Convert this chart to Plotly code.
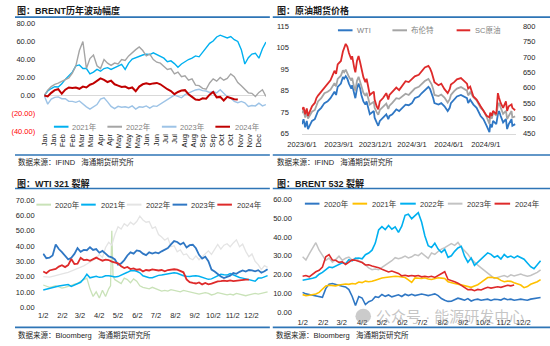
import plotly.graph_objects as go

W, H = 550, 346


def fx(x):
    """pixel column -> paper fraction"""
    return x / W


def fy(y):
    """pixel row (from top) -> paper fraction"""
    return 1 - y / H


# ---------------- BRENT 历年波动幅度 (%) ----------------
brent_days = list(range(0, 253, 4))  # trading-day index within the year
month_labels = ["Jan", "Jan", "Feb", "Feb", "Mar", "Mar", "Apr", "Apr", "May", "May", "May", "Jun",
                "Jun", "Jul", "Jul", "Aug", "Aug", "Sep", "Sep", "Oct", "Oct", "Nov", "Nov", "Dec"]
month_ticks = [round(10.6 * k, 1) for k in range(len(month_labels))]

brent_2021 = [0, 5, 7.8, 9.8, 9.5, 13, 18, 22, 26, 33,
              34, 30, 30, 24, 26, 29, 27, 30, 31, 29,
              31, 33, 34.5, 29, 36, 40.5, 42, 44, 45, 46,
              45.5, 47.5, 45.5, 44, 41.5, 37.5, 38.5, 35.5, 31.5, 35,
              37.5, 40, 41.5, 44, 43, 48, 53, 58, 60.5, 65,
              67, 65.5, 64, 65.5, 62, 60, 51, 35, 42, 46,
              47, 41.5, 52, 59.5]
brent_2022 = [0, 6, 10, 12.5, 13.8, 15.5, 17.5, 19.5, 25, 33,
              50, 60, 30, 41, 45, 33, 30, 40, 36, 33.5,
              36, 35, 40, 39, 44, 48, 51, 54, 50, 44,
              46, 40, 37, 36, 32, 29, 30, 24, 26, 21,
              22, 17, 18.5, 11.5, 11, 8, 7, 14, 18.5, 16,
              20, 17, 19, 24, 21, 14.5, 11, 7, 3, 2.5,
              -1, 3.5, 6.5, -1]
brent_2023 = [0, -9.5, -4, -2, -1.5, -3.5, -3.5, -6.5, -6.5, -7.5,
              -6, -9.5, -12.5, -15, -12.5, -10, -4, -2.5, -7, -12,
              -14.5, -12, -13, -12.5, -13.5, -11.5, -15, -12.5, -13, -11.5,
              -14, -11.5, -12, -9.5, -7, -4, -1.5, 0.5, -1, -2.5,
              1, 3, 4.8, 6.2, 7, 5.5, 5, 3.5, 4.5, 3,
              6.5, 3, -1.2, -3, -6.5, -8, -6.5, -8, -12, -11,
              -11.5, -8.5, -11.5, -10]
brent_2024 = [0, -1, 3, 6, 7, 2, 6.5, 9, 8.5, 9,
              7.5, 10, 9, 12, 13.5, 16, 19, 17.5, 15, 16.5,
              12.5, 11, 9.5, 10, 8, 9, 4.8, 10, 12.5, 13.5,
              12.5, 13.5, 14, 12.5, 9.5, 7, 5, 1.5, 4, 5.5,
              6, 1.5, -1.5, -4.5, -5, -3, -3.5, 1, 4, -2,
              -1.5, -5.5, -1.5, -3, -4, -4.5]

# ---------------- 原油期货价格 ----------------
price_dates = [
    "2023-06-01", "2023-06-05", "2023-06-09", "2023-06-13", "2023-06-16", "2023-06-26", "2023-07-03",
    "2023-07-07", "2023-07-11", "2023-07-19", "2023-07-27", "2023-08-04", "2023-08-11", "2023-08-21",
    "2023-08-25", "2023-08-29", "2023-09-06", "2023-09-11", "2023-09-14", "2023-09-18", "2023-09-22",
    "2023-09-26", "2023-10-02", "2023-10-04", "2023-10-09", "2023-10-12", "2023-10-16", "2023-10-20",
    "2023-10-24", "2023-10-27", "2023-11-01", "2023-11-06", "2023-11-09", "2023-11-13", "2023-11-17",
    "2023-11-27", "2023-11-29", "2023-12-04", "2023-12-08", "2023-12-12", "2023-12-20", "2023-12-28",
    "2024-01-02", "2024-01-05", "2024-01-12", "2024-01-22", "2024-01-29", "2024-02-06", "2024-02-14",
    "2024-02-22", "2024-03-01", "2024-03-08", "2024-03-18", "2024-03-25", "2024-04-02", "2024-04-11",
    "2024-04-15", "2024-04-19", "2024-04-23", "2024-04-26", "2024-05-06", "2024-05-13", "2024-05-21",
    "2024-05-29", "2024-06-03", "2024-06-06", "2024-06-14", "2024-06-21", "2024-07-01", "2024-07-08",
    "2024-07-16", "2024-07-19", "2024-07-24", "2024-08-01", "2024-08-09", "2024-08-19", "2024-08-26",
    "2024-09-03", "2024-09-10", "2024-09-12", "2024-09-16", "2024-09-19", "2024-09-27", "2024-10-01",
    "2024-10-04", "2024-10-08", "2024-10-14", "2024-10-21", "2024-10-24", "2024-10-28", "2024-11-04",
    "2024-11-06", "2024-11-13"]
wti_price = [69.4, 71.7, 67.9, 70.9, 67.1, 70.9, 71.7, 74.0, 75.5, 77.0,
             79.2, 80.0, 81.5, 84.5, 83.0, 86.8, 88.3, 91.4, 90.6, 91.8,
             90.6, 88.3, 86.0, 87.6, 83.0, 81.5, 86.0, 88.3, 86.0, 83.0,
             80.0, 78.5, 80.0, 77.0, 74.0, 75.5, 72.4, 70.2, 68.6, 70.9,
             72.4, 74.0, 71.7, 73.2, 74.0, 76.3, 75.5, 77.0, 78.5, 78.2,
             79.2, 81.5, 82.3, 83.8, 85.3, 86.8, 85.8, 83.8, 81.5, 79.2,
             78.5, 79.2, 77.7, 75.5, 77.0, 79.2, 80.8, 82.3, 83.0, 82.3,
             81.5, 79.2, 80.8, 78.5, 77.0, 73.2, 71.7, 68.6, 65.6, 69.4,
             67.9, 70.9, 69.4, 74.0, 75.5, 73.2, 70.2, 71.7, 67.1, 69.4,
             71.7, 68.6, 69.4]
brent_price = [74.5, 76.0, 72.5, 75.0, 72.0, 75.2, 76.0, 78.5, 80.0, 81.5,
               83.8, 84.5, 85.5, 88.5, 87.0, 90.5, 92.0, 94.5, 93.6, 94.8,
               93.0, 91.5, 89.8, 91.0, 86.5, 85.0, 89.6, 91.5, 89.0, 86.7,
               84.0, 82.6, 84.0, 81.5, 78.5, 79.8, 77.0, 75.0, 73.8, 76.0,
               77.5, 79.0, 76.5, 78.0, 79.3, 81.5, 81.2, 82.5, 83.6, 83.0,
               84.5, 86.0, 86.8, 88.3, 89.5, 90.5, 89.5, 88.0, 85.7, 83.0,
               82.5, 83.2, 81.8, 79.5, 81.0, 83.0, 84.8, 86.0, 86.7, 85.9,
               85.0, 82.8, 84.3, 82.0, 80.5, 77.0, 75.7, 72.8, 69.5, 73.3,
               72.0, 74.8, 73.4, 78.0, 79.3, 77.1, 74.2, 75.6, 71.8, 73.2,
               75.5, 72.5, 73.0]
sc_price = [529, 536, 513, 532, 508, 539, 550, 566, 574, 587,
            597, 613, 624, 655, 645, 676, 687, 718, 729, 743,
            734, 713, 692, 703, 666, 650, 687, 703, 682, 661,
            634, 618, 629, 603, 576, 587, 561, 539, 529, 555,
            566, 582, 561, 576, 587, 600, 592, 608, 621, 618,
            629, 637, 642, 655, 666, 671, 663, 650, 634, 618,
            608, 613, 595, 582, 595, 610, 618, 627, 631, 624,
            613, 597, 603, 571, 561, 539, 524, 508, 503, 518,
            508, 524, 513, 582, 566, 550, 534, 555, 524, 539,
            545, 534, 526]
price_ticks = ["2023-06-01", "2023-09-01", "2023-12-01", "2024-03-01", "2024-06-01", "2024-09-01"]
price_ticktext = ["2023/6/1", "2023/9/1", "2023/12/1", "2024/3/1", "2024/6/1", "2024/9/1"]

# ---------------- 裂解价差 (day of year) ----------------
crack_days = list(range(1, 362, 5))
crack_ticks = [1, 32, 60, 91, 121, 152, 182, 213, 244, 274, 305, 335]
crack_ticktext = ["1/2", "2/2", "3/2", "4/2", "5/2", "6/2", "7/2", "8/2", "9/2", "10/2", "11/2", "12/2"]

wti321_2020_days = [1, 6, 11, 16, 21, 26, 31, 36, 41, 46, 51, 56, 61, 66, 71, 76, 81, 86, 91, 96,
                    101, 106, 109, 111, 113, 116, 121, 126, 131, 136, 141, 146, 151, 156, 161, 166,
                    171, 176, 181, 186, 191, 196, 201, 206, 211, 216, 221, 226, 231, 236, 241, 246,
                    251, 256, 261, 266, 271, 276, 281, 286, 291, 296, 301, 306, 311, 316, 321, 326,
                    331, 336, 341, 346, 351, 356, 361]
wti321_2020 = [14.5, 13.8, 13, 13.5, 14, 13.2, 12.5, 13, 13.5, 14.2,
               15, 15.5, 17, 18, 19, 12, 7, 10, 6, 11,
               7, 12, 14, 50, 20,
               18, 17, 15.5, 19, 18, 16, 18.5, 17, 14, 13,
               12.5, 12, 13, 12, 11, 10.5, 11, 10.5, 11.5, 11,
               10.5, 10, 11, 10.5, 10, 9.5, 9, 8.5, 9, 9.5,
               9, 8, 8.5, 9.5, 9, 8.5, 8, 8.5, 8, 9,
               8.5, 8, 7.5, 8, 8.5, 9, 8.5, 9, 10, 10]
wti321_2021 = [11.2, 11.8, 12.3, 12.8, 13.2, 13.8, 14.2, 14.5, 14.8, 13.6,
               14.5, 15.5, 16.3, 18.5, 21.5, 19.2, 19.8, 20.2, 19.5, 19.7,
               20.5, 20.6, 20.2, 19.8, 20, 20.8, 22, 22.8, 23.8, 24,
               23.5, 22.5, 20.5, 19.8, 19.2, 19.3, 20.3, 20.8, 21, 21.3,
               22, 22.3, 22.5, 22.2, 21.3, 20.6, 20.2, 20, 20.4, 20.6,
               20.2, 19.7, 19, 18.2, 18.5, 19.6, 20.6, 21.5, 21.2, 21,
               22, 21, 20, 19.4, 19, 18.5, 18, 17.5, 17, 19,
               19, 19.8, 20.6]
wti321_2022 = [20, 19.8, 19.7, 20.2, 20.6, 21.2, 21.8, 22.2, 22.7, 23.5,
               24.2, 25, 26, 27, 28.2, 29.5, 30.5, 32, 34.5, 32.5,
               39, 42.4, 40.5, 47.5, 52.5, 51, 54.5, 53, 55.5, 54,
               56, 59.5, 57, 55.5, 56, 51.5, 52.5, 47.5, 45.8, 43.8,
               45.2, 39.5, 40.2, 36.2, 37.5, 34.2, 34.8, 32, 31, 33.5,
               31, 32.8, 34.5, 36.8, 34.5, 38, 41, 38, 40.5, 41.5,
               39.5, 42, 44, 39.5, 41.2, 36.5, 33, 34.8, 30, 27.8,
               24.5, 27.2, 26]
wti321_2023 = [35, 32, 32.3, 33.8, 41, 38, 36, 33.3, 31.2, 32.3,
               34.8, 38.6, 36.2, 37.4, 37.2, 39.2, 37.4, 38, 35.6, 36.8,
               35, 33.2, 32.6, 31.2, 27.8, 28.6, 30.8, 33.8, 35.8, 35,
               37.1, 36.7, 35, 34, 35.8, 35, 35.8, 35.2, 36.5, 37.4,
               38.6, 41, 43.2, 42.6, 41, 42.2, 39, 40.5, 40.8, 38.5,
               34.2, 31.8, 33, 30, 24.6, 23.3, 21.4, 20.1, 19, 19.7,
               20.6, 22.3, 21.8, 23.1, 24, 23.3, 24.3, 24, 23.4, 24.2,
               22.5, 23.5, 24.8]
wti321_2024 = [23.3, 22.2, 24, 24.4, 25, 26.5, 27.4, 26.2, 27.5, 31.5,
               28.2, 28.5, 32.2, 30.8, 31, 30.3, 31.6, 32.4, 31.3, 30.4,
               31.1, 30.8, 29.8, 29, 28.7, 26.8, 25.6, 26.3, 24.9, 25.4,
               24.5, 24.8, 23.4, 24.3, 24, 24.7, 24.5, 24, 24.3, 23.5,
               24.3, 24.7, 24.8, 24.5, 23.4, 22.8, 18.2, 16.4, 15.9, 15.5,
               16.2, 14.9, 15.8, 14.9, 15.4, 16.2, 16.9, 17, 17.3, 17,
               17.5, 17.1, 17.3, 17.9, 17.7, 18, 18]

brent532_2020 = [10.5, 9.7, 9.4, 9.1, 8.8, 8.6, 7.9, 12.5, 14.9, 15.2,
                 14.6, 14.4, 13.8, 13.4, 12, 8.3, 3.5, 8.3, 7.5, 4,
                 5.5, 6.2, 8.2, 7.8, 9.4, 8.4, 9.1, 8.1, 8.6, 9.2,
                 8.3, 9.5, 8.8, 9.5, 8.8, 9.2, 9.6, 9.2, 8.8, 9.2,
                 9.7, 8.8, 7.2, 6.3, 5.7, 5.8, 6.8, 7.4, 6.9, 6.3,
                 7.2, 5.9, 6.6, 6.9, 6.3, 6.6, 6.9, 6.2, 6.8, 6.7,
                 6.4, 7.3, 6.6, 6.9, 6.3, 6.6, 6.9, 6.6, 6.3, 6.9,
                 7.3, 7.5, 7.8]
brent532_2021 = [9.3, 8.8, 9, 9.3, 9.6, 10.5, 12, 13.9, 14.3, 14,
                 14, 14.4, 14.9, 15, 14.8, 15.2, 15, 16, 15.7, 16.5,
                 16.2, 16.4, 17, 17.7, 18.2, 18.4, 18.7, 18.8, 19.1, 19,
                 18.9, 18.4, 17.2, 15.8, 18.2, 18.1, 17.9, 18.3, 17.6, 17.4,
                 17.9, 18.3, 18.1, 17.9, 16.2, 15.6, 15.2, 14.9, 14.4, 14.1,
                 13.6, 13.2, 13.9, 14.6, 15.8, 17.2, 18.4, 18.6, 18.5, 18,
                 16.9, 16.2, 16.5, 16.4, 15.6, 15, 14.4, 13, 13.6, 14.8,
                 15.3, 16.2, 17.3]
brent532_2022 = [17, 17.3, 17.6, 18, 18.6, 20.2, 21.2, 22.6, 24, 23.7,
                 24.6, 25.4, 26.3, 25.8, 27.9, 27.3, 28.7, 28.8, 28.4, 30.6,
                 31.5, 33, 36.8, 43.8, 45.6, 44, 46.2, 44.2, 45.4, 42.5,
                 45.8, 51.6, 52.2, 49.8, 51.4, 53, 48, 40.6, 35.4, 34.4,
                 36.7, 33.6, 31.8, 33.4, 29.2, 30, 32.4, 34.2, 35.1, 29.8,
                 26.6, 28.8, 24.9, 26.5, 28.2, 30, 31.6, 30.8, 29.2, 30,
                 28.3, 30.7, 29.2, 29.9, 28.9, 29.9, 29.1, 28.2, 26.2, 24.2,
                 23.1, 25.2, 27.4]
brent532_2023 = [29.5, 27.8, 31, 33.8, 37, 33, 30, 27.6, 28.8, 26.6,
                 28, 29.8, 27.6, 28.7, 29.3, 27.8, 28.8, 27.4, 26.6, 24.9,
                 23.6, 22.6, 23, 22.6, 23.8, 24.9, 26.5, 27.4, 29, 28.4,
                 29, 29.9, 28.9, 29.5, 30.7, 30.1, 31.5, 30.1, 28.6, 31.5,
                 30.8, 32.3, 33.6, 34.4, 35.6, 36.5, 35.6, 37.2, 34.6, 32.8,
                 30.8, 28.4, 26.4, 25, 23.6, 22.1, 20.6, 19.2, 18, 18.5,
                 19, 19.5, 18.8, 19.9, 19.3, 19.8, 20.3, 19.6, 19.1, 19.5,
                 20.3, 21.2, 22.5]
brent532_2024 = [19.1, 19.5, 18.8, 20.4, 21.5, 22.3, 24, 29.5, 30.6, 27.8,
                 27.6, 26.5, 26.8, 25.4, 26.4, 27.8, 27.6, 27.2, 26.4, 25.1,
                 25.2, 24.6, 24.2, 23.7, 22.8, 22.2, 21.4, 21.9, 21.3, 20.6,
                 19.3, 19.6, 19.2, 19.5, 19.2, 19.5, 18.8, 19.1, 18.7, 19.1,
                 18.5, 19.4, 20.6, 21.5, 17.4, 17, 16.2, 15.4, 14.3, 12.8,
                 11.9, 12.1, 11.4, 12.1, 11.8, 12.6, 13.2, 12.8, 13.1, 13.5,
                 13.2, 13.8, 14.3, 14, 14.4]

# ---------------- styling ----------------
BLUE_RULE = "#2E75B6"
NUM_FONT = "Arial, 'Liberation Sans', 'Noto Sans CJK SC', sans-serif"
TICK_FONT = dict(family=NUM_FONT, size=7.5, color="#262626")
RED_TXT = "#FF0000"

C_CYAN = "#00B0F0"
C_GRAY = "#A5A5A5"
C_LBLUE = "#9DC3E6"
C_DRED = "#C00000"
C_BLUE = "#2F77C4"
C_RED = "#DE2A2A"
C_GREEN = "#C9E2B8"
C_LGRAY = "#E4E4E4"
C_SGRAY = "#C3C3C3"
C_AMBER = "#FFC000"

fig = go.Figure()


def add_line(x, y, color, width, xa, ya, name):
    fig.add_trace(go.Scatter(x=x, y=y, mode="lines", name=name,
                             line=dict(color=color, width=width),
                             xaxis=xa, yaxis=ya, showlegend=False, hoverinfo="skip"))


# panel 1
add_line(brent_days, brent_2021, C_CYAN, 1.4, "x", "y", "2021年")
add_line(brent_days, brent_2022, C_GRAY, 1.4, "x", "y", "2022年")
add_line(brent_days, brent_2023, C_LBLUE, 1.4, "x", "y", "2023年")
add_line(brent_days[:len(brent_2024)], brent_2024, C_DRED, 2, "x", "y", "2024年")

# panel 2
add_line(price_dates, wti_price, C_BLUE, 1.8, "x2", "y2", "WTI")
add_line(price_dates, brent_price, C_GRAY, 1.8, "x2", "y2", "布伦特")
add_line(price_dates, sc_price, C_RED, 1.8, "x2", "y3", "SC原油")

# panel 3
add_line(wti321_2020_days, wti321_2020, C_GREEN, 1.3, "x3", "y4", "2020年")
add_line(crack_days, wti321_2022, C_LGRAY, 1.3, "x3", "y4", "2022年")
add_line(crack_days, wti321_2021, C_CYAN, 1.5, "x3", "y4", "2021年")
add_line(crack_days, wti321_2023, C_BLUE, 1.8, "x3", "y4", "2023年")
add_line(crack_days[:len(wti321_2024)], wti321_2024, C_RED, 1.8, "x3", "y4", "2024年")

# panel 4
add_line(crack_days, brent532_2023, C_SGRAY, 1.5, "x4", "y5", "2023年")
add_line(crack_days, brent532_2020, C_BLUE, 1.6, "x4", "y5", "2020年")
add_line(crack_days, brent532_2021, C_AMBER, 1.6, "x4", "y5", "2021年")
add_line(crack_days, brent532_2022, C_CYAN, 1.6, "x4", "y5", "2022年")
add_line(crack_days[:len(brent532_2024)], brent532_2024, C_RED, 1.6, "x4", "y5", "2024年")

# ---------------- axes ----------------
p1_yvals = [80, 60, 40, 20, 0, -20, -40]
p1_ytext = []
for v in p1_yvals:
    if v < 0:
        p1_ytext.append(f"<span style='color:{RED_TXT}'>({abs(v):.2f})</span>")
    else:
        p1_ytext.append(f"{v:.2f}")

hidden = dict(showgrid=False, zeroline=False, showline=False, ticks="")

layout = dict(
    width=W, height=H, margin=dict(l=0, r=0, t=0, b=0),
    paper_bgcolor="white", plot_bgcolor="rgba(0,0,0,0)", showlegend=False,
    font=dict(family=NUM_FONT, size=8, color="#262626"),
    xaxis=dict(domain=[fx(30), fx(258)], range=[0, 252], anchor="y",
               tickmode="array", tickvals=month_ticks, ticktext=month_labels, tickangle=-90,
               tickfont=dict(family=NUM_FONT, size=7.5, color="#1a1a1a"), **hidden),
    yaxis=dict(domain=[fy(131), fy(20)], range=[-40, 80], anchor="x",
               tickmode="array", tickvals=p1_yvals, ticktext=p1_ytext, tickfont=TICK_FONT,
               showgrid=False, showline=False, ticks="", zeroline=True,
               zerolinecolor="#D9D9D9", zerolinewidth=1, ticklabelstandoff=8),
    xaxis2=dict(domain=[fx(295), fx(515)], range=["2023-06-01", "2024-11-15"], type="date",
                anchor="y2", tickmode="array", tickvals=price_ticks, ticktext=price_ticktext,
                tickfont=TICK_FONT, showgrid=False, zeroline=False, ticks="",
                showline=True, linecolor="#D9D9D9", linewidth=1, ticklabelstandoff=3),
    yaxis2=dict(domain=[fy(133), fy(23)], range=[65, 115], anchor="x2",
                tickmode="array", tickvals=[65, 75, 85, 95, 105, 115],
                tickfont=TICK_FONT, ticklabelstandoff=12, **hidden),
    yaxis3=dict(domain=[fy(133), fy(23)], range=[450, 800], anchor="x2", overlaying="y2",
                side="right", tickmode="array", tickvals=[450, 500, 550, 600, 650, 700, 750, 800],
                tickfont=TICK_FONT, ticklabelstandoff=6, **hidden),
    xaxis3=dict(domain=[fx(28.4), fx(260.3)], range=[0, 362], anchor="y4",
                tickmode="array", tickvals=crack_ticks, ticktext=crack_ticktext,
                tickfont=TICK_FONT, ticklabelstandoff=2, **hidden),
    yaxis4=dict(domain=[fy(311.3), fy(201.3)], range=[0, 70], anchor="x3",
                tickmode="array", tickvals=[0, 10, 20, 30, 40, 50, 60, 70],
                tickformat=".2f", tickfont=TICK_FONT, ticklabelstandoff=7, **hidden),
    xaxis4=dict(domain=[fx(295), fx(541)], range=[0, 362], anchor="y5",
                tickmode="array", tickvals=crack_ticks, ticktext=crack_ticktext,
                tickfont=TICK_FONT, ticklabelstandoff=4, **hidden),
    yaxis5=dict(domain=[fy(316.3), fy(200.8)], range=[0, 60], anchor="x4",
                tickmode="array", tickvals=[0, 10, 20, 30, 40, 50, 60],
                tickformat=".2f", tickfont=TICK_FONT, ticklabelstandoff=9, **hidden),
)
fig.update_layout(**layout)

shapes = []
annotations = []


def rule(y, x0, x1):
    shapes.append(dict(type="line", xref="paper", yref="paper", x0=fx(x0), x1=fx(x1),
                       y0=fy(y), y1=fy(y), line=dict(color=BLUE_RULE, width=1.6)))


for yy in (13.5, 155, 189.5, 332):
    rule(yy, 0, 262)
    rule(yy, 265, 550)


def text(x, y, s, size, color="#262626", family=NUM_FONT, anchor="left"):
    annotations.append(dict(x=fx(x), y=fy(y), xref="paper", yref="paper", text=s,
                            showarrow=False, xanchor=anchor, yanchor="middle",
                            font=dict(family=family, size=size, color=color)))


# panel titles
text(0, 7, "<b>图：BRENT历年波动幅度</b>", 9, "#1a1a1a")
text(267, 7, "<b>图：原油期货价格</b>", 9, "#1a1a1a")
text(0, 184, "<b>图：WTI 321 裂解</b>", 9, "#1a1a1a")
text(267, 184, "<b>图：BRENT 532 裂解</b>", 9, "#1a1a1a")

# data sources
gap = "\u00a0\u00a0\u00a0"
text(1, 162, "数据来源：IFIND" + gap + "海通期货研究所", 7.5)
text(267, 162, "数据来源：IFIND" + gap + "海通期货研究所", 7.5)
text(1, 340, "数据来源：Bloomberg" + gap + "海通期货研究所", 7.5)
text(266, 340, "数据来源：Bloomberg" + gap + "海通期货研究所", 7.5)


def legend_item(x0, x1, y, color, label, tx, tcolor):
    shapes.append(dict(type="line", xref="paper", yref="paper", x0=fx(x0), x1=fx(x1),
                       y0=fy(y), y1=fy(y), line=dict(color=color, width=2)))
    text(tx, y, label, 7.5, tcolor)


LG = "#7F7F7F"
for (a, b, c, lab, t) in [(40, 55, C_CYAN, "2021年", 57), (95, 110, C_GRAY, "2022年", 112),
                          (151, 166, C_LBLUE, "2023年", 168), (206, 221, C_DRED, "2024年", 224)]:
    legend_item(a, b, 126, c, lab, t, LG)

for (a, b, c, lab, t) in [(332, 347, C_BLUE, "WTI", 350), (388, 403, C_GRAY, "布伦特", 405),
                          (454, 468, C_RED, "SC原油", 471)]:
    legend_item(a, b, 27, c, lab, t, LG)

for (a, b, c, lab, t) in [(22, 37, C_GREEN, "2020年", 39), (68, 83, C_CYAN, "2021年", 86),
                          (115, 130, C_LGRAY, "2022年", 133), (162, 177, C_BLUE, "2023年", 179),
                          (208, 223, C_RED, "2024年", 226)]:
    legend_item(a, b, 206, c, lab, t, "#333333")

for (a, b, c, lab, t) in [(298, 313, C_BLUE, "2020年", 316), (347, 362, C_AMBER, "2021年", 365),
                          (396, 412, C_CYAN, "2022年", 414), (445, 460, C_SGRAY, "2023年", 463),
                          (493, 509, C_RED, "2024年", 512)]:
    legend_item(a, b, 205, c, lab, t, "#333333")

# channel watermark over the BRENT 532 panel
shapes.append(dict(type="circle", xref="paper", yref="paper", x0=fx(350), x1=fx(366),
                   y0=fy(328), y1=fy(313), fillcolor="rgba(140,140,140,0.45)",
                   line=dict(width=0)))
text(369, 321, "公众号 · 能源研发中心", 15, "rgba(140,140,140,0.5)")

fig.update_layout(shapes=shapes, annotations=annotations)
fig.write_html("out.html")
